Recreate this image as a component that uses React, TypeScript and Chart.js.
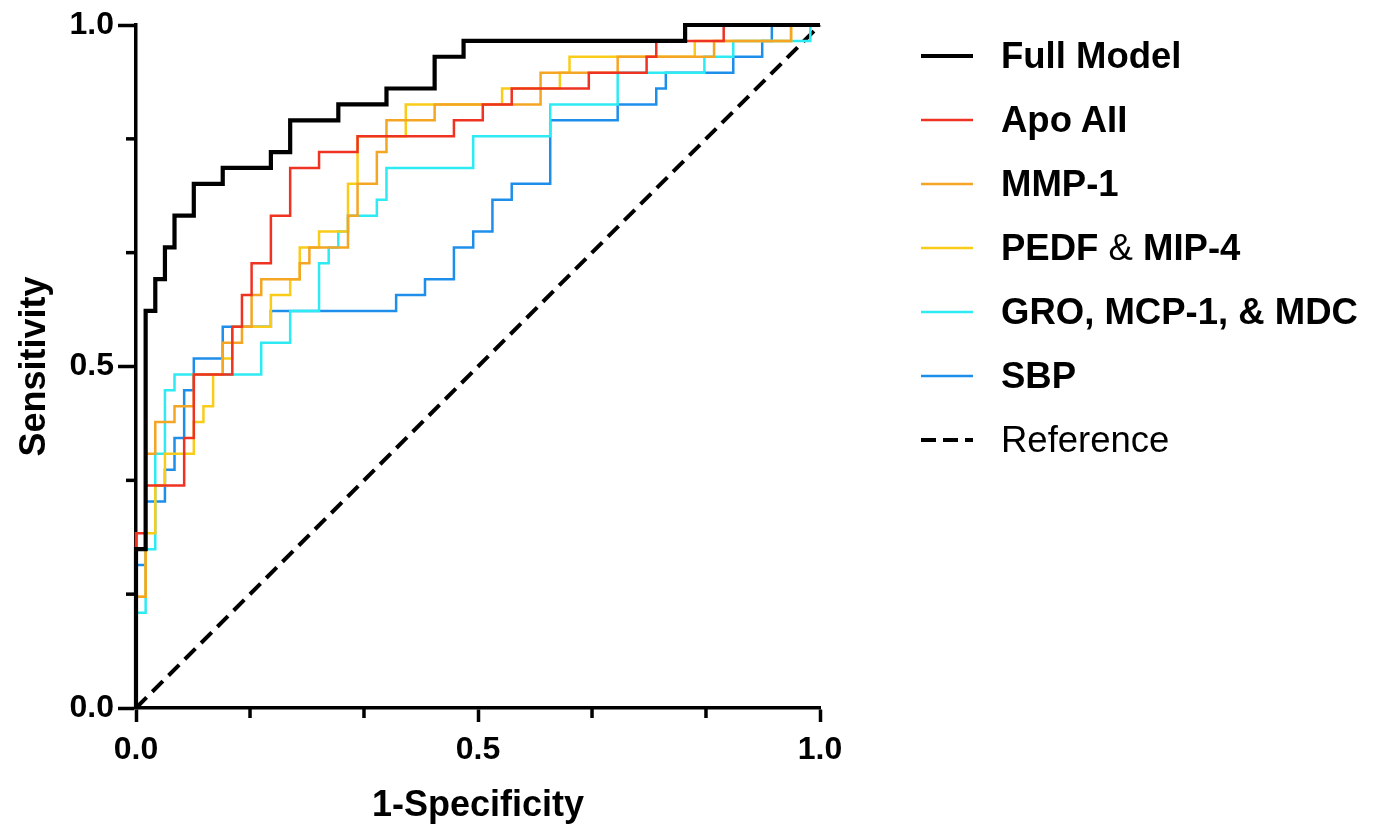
import React, { useEffect, useRef } from 'react';
import { Chart, registerables } from 'chart.js';

Chart.register(...registerables);

// ROC step points (1-Specificity, Sensitivity): each point is the top of a riser
const fullModelX = [0, 0, 0.0141, 0.0282, 0.0423, 0.0563, 0.0845, 0.1268, 0.1972, 0.2254, 0.2958, 0.3662, 0.4366, 0.4789, 0.8028, 1];
const fullModelY = [0, 0.2326, 0.5814, 0.6279, 0.6744, 0.7209, 0.7674, 0.7907, 0.814, 0.8605, 0.8837, 0.907, 0.9535, 0.9767, 1, 1];

const apoAIIX = [0, 0, 0.0141, 0.0704, 0.0845, 0.1408, 0.1549, 0.169, 0.1972, 0.2254, 0.2676, 0.3239, 0.4648, 0.507, 0.5493, 0.662, 0.7465, 0.7606, 0.8592, 1];
const apoAIIY = [0, 0.2558, 0.3256, 0.3953, 0.4884, 0.5581, 0.6047, 0.6512, 0.7209, 0.7907, 0.814, 0.8372, 0.8605, 0.8837, 0.907, 0.9302, 0.9535, 0.9767, 1, 1];

const mmp1X = [0, 0, 0.0141, 0.0282, 0.0563, 0.0845, 0.1268, 0.1549, 0.169, 0.1831, 0.2394, 0.2535, 0.3099, 0.3239, 0.3521, 0.3662, 0.4366, 0.5915, 0.7042, 0.8451, 0.9577, 1];
const mmp1Y = [0, 0.1628, 0.3721, 0.4186, 0.4419, 0.4884, 0.5349, 0.5581, 0.6047, 0.6279, 0.6512, 0.6744, 0.7209, 0.7674, 0.814, 0.8605, 0.8837, 0.9302, 0.9535, 0.9767, 1, 1];

const pedfX = [0, 0, 0.0141, 0.0282, 0.0423, 0.0845, 0.0986, 0.1127, 0.1268, 0.1408, 0.1972, 0.2254, 0.2394, 0.2676, 0.3099, 0.3239, 0.3944, 0.5352, 0.6197, 0.6338, 0.8169, 0.9577, 1];
const pedfY = [0, 0.1628, 0.2558, 0.3256, 0.3721, 0.4186, 0.4419, 0.4884, 0.5116, 0.5581, 0.6047, 0.6279, 0.6744, 0.6977, 0.7674, 0.8372, 0.8837, 0.907, 0.9302, 0.9535, 0.9767, 1, 1];

const groX = [0, 0, 0.0141, 0.0282, 0.0423, 0.0563, 0.1831, 0.2254, 0.2676, 0.2817, 0.2958, 0.3099, 0.3521, 0.3662, 0.493, 0.6056, 0.7042, 0.831, 0.8732, 0.9859, 1];
const groY = [0, 0.1395, 0.2326, 0.3721, 0.4651, 0.4884, 0.5349, 0.5814, 0.6512, 0.6744, 0.6977, 0.7209, 0.7442, 0.7907, 0.8372, 0.8837, 0.9302, 0.9535, 0.9767, 1, 1];

const sbpX = [0, 0, 0.0141, 0.0423, 0.0563, 0.0704, 0.0845, 0.1268, 0.1972, 0.3803, 0.4225, 0.4648, 0.493, 0.5211, 0.5493, 0.6056, 0.7042, 0.7606, 0.7746, 0.8732, 0.9155, 0.9296, 1];
const sbpY = [0, 0.2093, 0.3023, 0.3488, 0.3953, 0.4651, 0.5116, 0.5581, 0.5814, 0.6047, 0.6279, 0.6744, 0.6977, 0.7442, 0.7674, 0.8605, 0.8837, 0.907, 0.9302, 0.9535, 0.9767, 1, 1];

const referenceX = [0, 1];
const referenceY = [0, 1];

const seriesNames = ['Full Model', 'Apo AII', 'MMP-1', 'PEDF & MIP-4', 'GRO, MCP-1, & MDC', 'SBP', 'Reference'];
const seriesColors = ['#000000', '#EE3322', '#F5A524', '#F9CC1A', '#2EEAF2', '#1E8EEB', '#000000'];

const majorTicks = [0, 0.5, 1];
const minorTicks = [0.1667, 0.3333, 0.6667, 0.8333];
const tickLabels = ['0.0', '0.5', '1.0'];

const FONT = '"Liberation Sans", Arial, Helvetica, sans-serif';
const AXIS_W = 3.5;
const MAJOR_LEN = 18;
const MINOR_LEN = 10;

const toPoints = (xs: number[], ys: number[]) => xs.map((x, i) => ({ x, y: ys[i] }));

const minorTickPlugin = {
  id: 'minorTicks',
  afterDraw(chart: any) {
    const ctx = chart.ctx;
    const xs = chart.scales.x;
    const ys = chart.scales.y;
    ctx.save();
    ctx.strokeStyle = '#000';
    ctx.lineWidth = AXIS_W;
    ctx.lineCap = 'butt';
    minorTicks.forEach((v) => {
      const px = xs.getPixelForValue(v);
      ctx.beginPath();
      ctx.moveTo(px, xs.top);
      ctx.lineTo(px, xs.top + MINOR_LEN);
      ctx.stroke();
      const py = ys.getPixelForValue(v);
      ctx.beginPath();
      ctx.moveTo(ys.right, py);
      ctx.lineTo(ys.right - MINOR_LEN, py);
      ctx.stroke();
    });
    ctx.restore();
  },
};

function LegendSample({ color, width, dashed }: { color: string; width: number; dashed?: boolean }) {
  return (
    <svg width={54} height={12} style={{ display: 'block' }}>
      <line
        x1={0}
        y1={6}
        x2={52}
        y2={6}
        stroke={color}
        strokeWidth={width}
        strokeDasharray={dashed ? '15 7' : undefined}
      />
    </svg>
  );
}

export default function App() {
  const canvasRef = useRef<HTMLCanvasElement | null>(null);

  useEffect(() => {
    if (!canvasRef.current) return;
    const seriesX = [fullModelX, apoAIIX, mmp1X, pedfX, groX, sbpX];
    const seriesY = [fullModelY, apoAIIY, mmp1Y, pedfY, groY, sbpY];
    const datasets: any[] = seriesX.map((xs, k) => ({
      label: seriesNames[k],
      data: toPoints(xs, seriesY[k]),
      borderColor: seriesColors[k],
      backgroundColor: seriesColors[k],
      borderWidth: k === 0 ? 4.2 : 2.5,
      stepped: 'before',
      pointRadius: 0,
      fill: false,
      tension: 0,
      clip: false,
    }));
    datasets.push({
      label: seriesNames[6],
      data: toPoints(referenceX, referenceY),
      borderColor: seriesColors[6],
      borderWidth: 4,
      borderDash: [15, 8],
      pointRadius: 0,
      fill: false,
      clip: false,
    });

    const allTicks = [...majorTicks, ...minorTicks].sort((a, b) => a - b);
    const labelFor = (v: number) => {
      const idx = majorTicks.indexOf(v);
      return idx >= 0 ? tickLabels[idx] : '';
    };
    const tickColor = (c: any) => (c.tick && majorTicks.indexOf(c.tick.value) >= 0 ? '#000' : 'rgba(0,0,0,0)');

    const chart = new Chart(canvasRef.current, {
      type: 'line',
      data: { datasets },
      plugins: [minorTickPlugin],
      options: {
        animation: false,
        responsive: false,
        maintainAspectRatio: false,
        devicePixelRatio: 1,
        layout: { padding: { left: 0, top: 25, right: 556, bottom: 0 } },
        plugins: { legend: { display: false }, tooltip: { enabled: false } },
        scales: {
          x: {
            type: 'linear',
            min: 0,
            max: 1,
            afterBuildTicks: (s: any) => {
              s.ticks = allTicks.map((v) => ({ value: v }));
            },
            afterFit: (s: any) => {
              s.height = 118;
            },
            ticks: {
              callback: (v: any) => labelFor(v),
              autoSkip: false,
              maxRotation: 0,
              color: '#000',
              padding: 9,
              font: { family: FONT, size: 32, weight: 'bold' },
            },
            grid: {
              drawOnChartArea: false,
              drawTicks: true,
              tickLength: 14,
              tickWidth: AXIS_W,
              tickColor,
            },
            border: { display: true, color: '#000', width: AXIS_W },
            title: {
              display: true,
              text: '1-Specificity',
              color: '#000',
              padding: 0,
              font: { family: FONT, size: 36, weight: 'bold', lineHeight: 1.1 },
            },
          },
          y: {
            type: 'linear',
            min: 0,
            max: 1,
            afterBuildTicks: (s: any) => {
              s.ticks = allTicks.map((v) => ({ value: v }));
            },
            afterFit: (s: any) => {
              s.width = 136;
            },
            ticks: {
              callback: (v: any) => labelFor(v),
              autoSkip: false,
              color: '#000',
              padding: 4,
              font: { family: FONT, size: 32, weight: 'bold' },
            },
            grid: {
              drawOnChartArea: false,
              drawTicks: true,
              tickLength: MAJOR_LEN,
              tickWidth: AXIS_W,
              tickColor,
            },
            border: { display: true, color: '#000', width: AXIS_W },
            title: {
              display: true,
              text: 'Sensitivity',
              color: '#000',
              padding: { top: 15, bottom: 0 },
              font: { family: FONT, size: 36, weight: 'bold', lineHeight: 1.1 },
            },
          },
        },
      } as any,
    });
    return () => chart.destroy();
  }, []);

  const legendRows = [0, 1, 2, 3, 4, 5, 6];
  const rowY = [56, 120, 184, 248, 312, 376, 440];

  const renderLabel = (k: number) => {
    if (k === 3)
      return (
        <>
          <b>PEDF</b> <span style={{ fontWeight: 'normal' }}>&amp;</span> <b>MIP-4</b>
        </>
      );
    if (k === 6) return <span style={{ fontWeight: 'normal' }}>{seriesNames[k]}</span>;
    return <b>{seriesNames[k]}</b>;
  };

  return (
    <div style={{ position: 'fixed', left: 0, top: 0, width: 1376, height: 826, background: '#fff' }}>
      <canvas ref={canvasRef} width={1376} height={826} style={{ position: 'absolute', left: 0, top: 0 }} />
      {legendRows.map((k) => (
        <div
          key={k}
          style={{
            position: 'absolute',
            left: 921,
            top: rowY[k] - 25,
            height: 50,
            display: 'flex',
            alignItems: 'center',
            whiteSpace: 'nowrap',
            fontFamily: FONT,
            fontSize: 36.5,
            color: '#000',
          }}
        >
          <LegendSample color={seriesColors[k]} width={k === 0 ? 4 : k === 6 ? 4 : 2.5} dashed={k === 6} />
          <span style={{ marginLeft: 26 }}>{renderLabel(k)}</span>
        </div>
      ))}
    </div>
  );
}
